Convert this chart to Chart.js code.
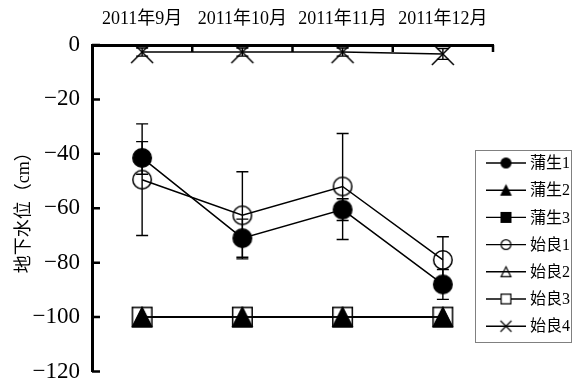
<!DOCTYPE html>
<html>
<head>
<meta charset="utf-8">
<script src="https://cdn.jsdelivr.net/npm/chart.js@4.4.1/dist/chart.umd.min.js"></script>
<style>
  html, body { margin: 0; padding: 0; background: #fff; }
</style>
</head>
<body>
<canvas id="chart" width="579" height="383"></canvas>
<script>
// Monthly groundwater level, cm below surface
const months = ['2011年9月', '2011年10月', '2011年11月', '2011年12月'];
const seriesNames = ['蒲生1', '蒲生2', '蒲生3', '始良1', '始良2', '始良3', '始良4'];

const gamo1 = [-41.5, -71, -60.5, -88];
const gamo1Err = [6, 7, 4, 5.5];
const gamo2 = [-100, -100, -100, -100];
const gamo3 = [-100, -100, -100, -100];
const aira1 = [-49.5, -62.6, -52, -79];
const aira1Err = [20.5, 16, 19.5, 8.5];
const aira2 = [-100, -100, -100, -100];
const aira3 = [-100, -100, -100, -100];
const aira4 = [-2.6, -2.6, -2.6, -3.3];
const aira4Err = [1.5, 1.5, 1.5, 2];

const yTicks = [0, -20, -40, -60, -80, -100, -120];

const FONT = '"Liberation Serif", "Noto Sans CJK SC", serif';
Chart.defaults.font.family = FONT;
Chart.defaults.color = '#000';

// Marker bitmaps shared by the plot and the legend
function makeMarker(shape, fill, size, lw) {
  const pad = 2;
  const s = Math.ceil(size + pad * 2);
  const c = document.createElement('canvas');
  c.width = s; c.height = s;
  const g = c.getContext('2d');
  const m = s / 2, h = size / 2;
  g.lineWidth = lw;
  g.strokeStyle = '#000';
  g.fillStyle = fill;
  g.beginPath();
  if (shape === 'circle') {
    g.arc(m, m, h - lw / 2, 0, Math.PI * 2);
  } else if (shape === 'square') {
    g.rect(m - h + lw / 2, m - h + lw / 2, size - lw, size - lw);
  } else if (shape === 'triangle') {
    g.moveTo(m, m - h + lw / 2);
    g.lineTo(m + h - lw / 2, m + h - lw / 2);
    g.lineTo(m - h + lw / 2, m + h - lw / 2);
    g.closePath();
  } else if (shape === 'x') {
    g.moveTo(m - h, m - h); g.lineTo(m + h, m + h);
    g.moveTo(m + h, m - h); g.lineTo(m - h, m + h);
  }
  if (fill !== 'none' && shape !== 'x') g.fill();
  g.stroke();
  return c;
}

const styles = [
  { shape: 'circle', fill: '#000' },
  { shape: 'triangle', fill: '#000' },
  { shape: 'square', fill: '#000' },
  { shape: 'circle', fill: 'none' },
  { shape: 'triangle', fill: 'none' },
  { shape: 'square', fill: '#fff' },
  { shape: 'x', fill: 'none' }
];
const plotSizes = [20, 20, 20, 20, 20, 21, 22];
const plotMarkers = styles.map((s, i) => makeMarker(s.shape, s.fill, plotSizes[i], 1.5));
const legendMarkers = styles.map(s => makeMarker(s.shape, s.fill, 11, 1.2));

const values = [gamo1, gamo2, gamo3, aira1, aira2, aira3, aira4];
const errors = [gamo1Err, null, null, aira1Err, null, null, aira4Err];
const drawOrder = [1, 0, 5, 1, 0, 4, 1];

const datasets = values.map((v, i) => ({
  label: seriesNames[i],
  data: v,
  errors: errors[i],
  borderColor: '#000',
  borderWidth: 1.5,
  pointStyle: plotMarkers[i],
  pointRadius: 10,
  pointHoverRadius: 10,
  order: drawOrder[i],
  fill: false,
  tension: 0
}));

// Error bars, inward tick marks and the boxed legend
const decorations = {
  id: 'decorations',
  afterDatasetsDraw(chart) {
    const ctx = chart.ctx;
    const xs = chart.scales.x, ys = chart.scales.y;
    ctx.save();
    ctx.strokeStyle = '#000';
    ctx.lineWidth = 1.4;
    chart.data.datasets.forEach(ds => {
      if (!ds.errors) return;
      ds.data.forEach((v, i) => {
        const x = xs.getPixelForValue(i);
        const y1 = ys.getPixelForValue(v + ds.errors[i]);
        const y2 = ys.getPixelForValue(v - ds.errors[i]);
        ctx.beginPath();
        ctx.moveTo(x, y1); ctx.lineTo(x, y2);
        ctx.moveTo(x - 6, y1); ctx.lineTo(x + 6, y1);
        ctx.moveTo(x - 6, y2); ctx.lineTo(x + 6, y2);
        ctx.stroke();
      });
    });
    ctx.restore();
  },
  afterDraw(chart) {
    const ctx = chart.ctx;
    const xs = chart.scales.x, ys = chart.scales.y;
    const area = chart.chartArea;
    ctx.save();
    ctx.strokeStyle = '#000';
    ctx.lineWidth = 2.5;
    ctx.beginPath();
    yTicks.forEach(t => {
      const y = ys.getPixelForValue(t);
      ctx.moveTo(area.left, y); ctx.lineTo(area.left + 8, y);
    });
    const n = months.length;
    for (let i = 1; i <= n; i++) {
      const x = xs.left + i * xs.width / n;
      ctx.moveTo(x, area.top); ctx.lineTo(x, area.top + 7);
    }
    ctx.stroke();

    // legend
    const lx = 475, ly = 150, lw = 96, lh = 192, step = 27.2;
    ctx.lineWidth = 1;
    ctx.strokeStyle = '#808080';
    ctx.strokeRect(lx + 0.5, ly + 0.5, lw, lh);
    ctx.font = '16px ' + FONT;
    ctx.fillStyle = '#000';
    ctx.textBaseline = 'middle';
    ctx.textAlign = 'left';
    chart.data.datasets.forEach((ds, i) => {
      const y = ly + 13 + i * step;
      ctx.strokeStyle = '#000';
      ctx.lineWidth = 1.4;
      ctx.beginPath();
      ctx.moveTo(486, y); ctx.lineTo(526, y);
      ctx.stroke();
      const mk = legendMarkers[i];
      ctx.drawImage(mk, 506 - mk.width / 2, y - mk.height / 2);
      ctx.fillText(ds.label, 530, y + 1);
    });
    ctx.restore();
  }
};

new Chart(document.getElementById('chart'), {
  type: 'line',
  data: { labels: months, datasets },
  options: {
    responsive: false,
    animation: false,
    layout: { padding: { left: 0, top: 0, right: 86, bottom: 10 } },
    plugins: { legend: { display: false }, tooltip: { enabled: false } },
    scales: {
      x: {
        type: 'category',
        position: 'top',
        offset: true,
        grid: { display: false, drawTicks: false },
        border: { display: true, width: 3, color: '#000' },
        ticks: { font: { size: 18 }, padding: 15, maxRotation: 0 },
        afterFit(scale) { scale.height = 45; }
      },
      y: {
        min: -120,
        max: 0,
        grid: { display: false, drawTicks: false },
        border: { display: true, width: 3, color: '#000' },
        ticks: {
          stepSize: 20,
          padding: 12,
          font: { size: 23 },
          callback: v => (v < 0 ? '\u2212' + Math.abs(v) : String(v))
        },
        title: {
          display: true,
          text: '地下水位（cm）',
          font: { size: 18 },
          padding: { top: 13, bottom: 0 }
        },
        afterFit(scale) {
          scale.width = 92;
          scale.paddingTop = 0;
          scale.paddingBottom = 0;
        }
      }
    }
  },
  plugins: [decorations]
});
</script>
</body>
</html>
